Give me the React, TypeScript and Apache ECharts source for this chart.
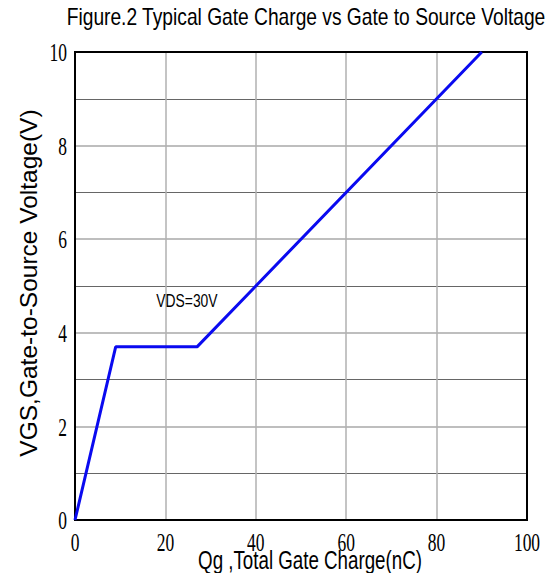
import React, { useEffect, useRef } from "react";
import * as echarts from "echarts";

const qg = [0, 9, 27, 90];
const vgs = [0, 3.7, 3.7, 10];
const xTicks = [0, 20, 40, 60, 80, 100];
const yTicks = [0, 2, 4, 6, 8, 10];
const titleText = "Figure.2 Typical Gate Charge vs Gate to Source Voltage";
const xName = "Qg ,Total Gate Charge(nC)";
const yName = "VGS,Gate-to-Source Voltage(V)";
const note = "VDS=30V";
const noteAt = [18, 4.6];

const SANS = '"Liberation Sans", Arial, sans-serif';
const SERIF = '"Liberation Serif", "Times New Roman", serif';

function txt(text: string, x: number, y: number, font: string, size: number, sx: number, align: string, rotation = 0) {
  return {
    type: "text",
    x,
    y,
    scaleX: sx,
    rotation,
    silent: true,
    style: {
      text,
      x: 0,
      y: 0,
      font: `${size}px ${font}`,
      fontFamily: font,
      fontSize: size,
      fill: "#000",
      align,
      textAlign: align,
      verticalAlign: "middle",
      textVerticalAlign: "middle",
    },
  };
}

export default function App() {
  const ref = useRef<HTMLDivElement>(null);
  useEffect(() => {
    const chart = echarts.init(ref.current!, null, { renderer: "svg" });
    chart.setOption({
      animation: false,
      backgroundColor: "#ffffff",
      grid: { left: 75, right: 28, top: 52, bottom: 61, show: true, borderColor: "#000", borderWidth: 2, z: 3 },
      xAxis: {
        type: "value",
        min: 0,
        max: 100,
        interval: 20,
        axisLine: { lineStyle: { color: "#000", width: 2 } },
        axisTick: { show: false },
        axisLabel: { show: false },
        splitLine: { show: true, lineStyle: { color: "#b0b0b0", width: 1.5 } },
      },
      yAxis: {
        type: "value",
        min: 0,
        max: 10,
        interval: 2,
        axisLine: { lineStyle: { color: "#000", width: 2 } },
        axisTick: { show: false },
        axisLabel: { show: false },
        minorTick: { show: false, splitNumber: 2 },
        splitLine: { show: true, lineStyle: { color: "#a8a8a8", width: 1.5 } },
        minorSplitLine: { show: true, lineStyle: { color: "#666666", width: 1.2 } },
      },
      series: [
        {
          type: "line",
          data: qg.map((x, i) => [x, vgs[i]]),
          symbol: "none",
          z: 5,
          lineStyle: { color: "#0a0af0", width: 3 },
        },
      ],
    });

    const graphics: any[] = [];
    graphics.push(txt(titleText, 306, 17, SANS, 24, 0.8, "center"));
    graphics.push(txt(xName, 310, 561, SANS, 25, 0.75, "center"));
    graphics.push(txt(yName, 28, 283, SANS, 24.5, 1, "center", Math.PI / 2));
    const np = chart.convertToPixel({ gridIndex: 0 }, noteAt) as number[];
    graphics.push(txt(note, np[0], np[1] - 4, SANS, 18, 0.77, "left"));
    xTicks.forEach((v) => {
      const px = chart.convertToPixel({ xAxisIndex: 0 }, v) as number;
      graphics.push(txt(String(v), px, 543, SERIF, 25, 0.7, "center"));
    });
    yTicks.forEach((v) => {
      const py = chart.convertToPixel({ yAxisIndex: 0 }, v) as number;
      graphics.push(txt(String(v), 67, py + 1, SERIF, 25, 0.7, "right"));
    });
    chart.setOption({ graphic: graphics });
    return () => chart.dispose();
  }, []);
  return <div ref={ref} style={{ width: 555, height: 581, margin: -8 }} />;
}
